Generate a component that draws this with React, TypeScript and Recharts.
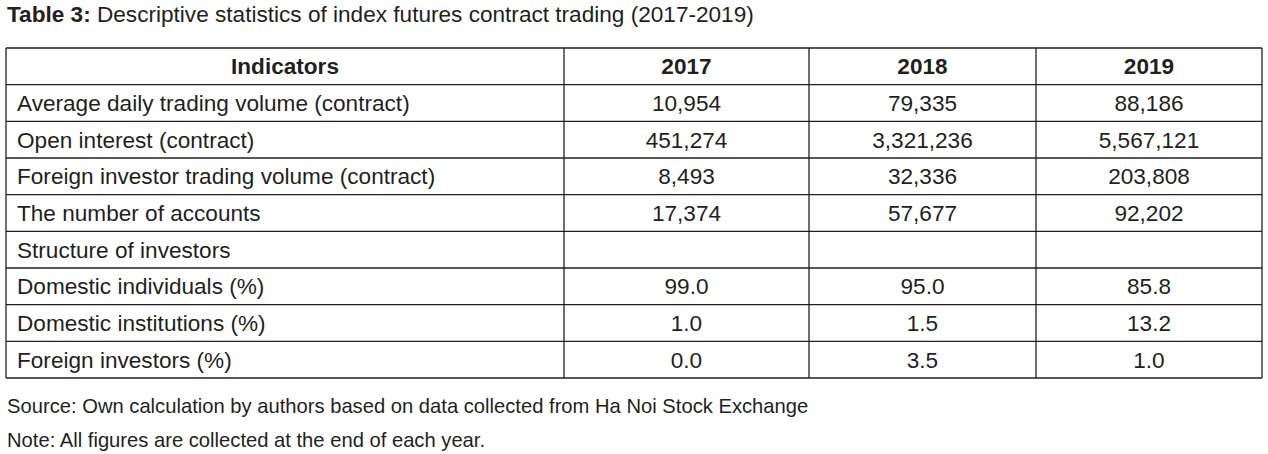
import React from 'react';
import { ScatterChart, Scatter, XAxis, YAxis, ReferenceLine, Customized } from 'recharts';

const title = 'Table 3:';
const subtitle = ' Descriptive statistics of index futures contract trading (2017-2019)';
const headerLabel = 'Indicators';
const years = ['2017', '2018', '2019'];
const indicators = [
  'Average daily trading volume (contract)',
  'Open interest (contract)',
  'Foreign investor trading volume (contract)',
  'The number of accounts',
  'Structure of investors',
  'Domestic individuals (%)',
  'Domestic institutions (%)',
  'Foreign investors (%)',
];
const values2017 = [10954, 451274, 8493, 17374, null, 99.0, 1.0, 0.0];
const values2018 = [79335, 3321236, 32336, 57677, null, 95.0, 1.5, 3.5];
const values2019 = [88186, 5567121, 203808, 92202, null, 85.8, 13.2, 1.0];
const sourceNote = 'Source: Own calculation by authors based on data collected from Ha Noi Stock Exchange';
const footNote = 'Note: All figures are collected at the end of each year.';

// layout
const W = 1268;
const H = 454;
const colWidths = [558, 245, 227, 226];
const colEdges = colWidths.reduce<number[]>((acc, w) => [...acc, acc[acc.length - 1] + w], [0]);
const tableWidth = colEdges[colEdges.length - 1];
const rowCount = indicators.length + 1;
const FONT = '"Liberation Sans", Arial, Helvetica, sans-serif';
const INK = '#231f20';

const fmt = (v: number, isPct: boolean) =>
  isPct ? v.toFixed(1) : v.toLocaleString('en-US');

type Cell = { x: number; y: number; text: string; anchor: 'start' | 'middle'; bold: boolean };

const cells: Cell[] = [];
cells.push({ x: (colEdges[0] + colEdges[1]) / 2, y: 0.5, text: headerLabel, anchor: 'middle', bold: true });
years.forEach((yr, j) => {
  cells.push({ x: (colEdges[j + 1] + colEdges[j + 2]) / 2, y: 0.5, text: yr, anchor: 'middle', bold: true });
});
const series = [values2017, values2018, values2019];
indicators.forEach((name, i) => {
  const row = i + 1.5;
  const isPct = name.includes('(%)');
  cells.push({ x: colEdges[0] + 11, y: row, text: name, anchor: 'start', bold: false });
  series.forEach((vals, j) => {
    const v = vals[i];
    if (v === null) return;
    cells.push({ x: (colEdges[j + 1] + colEdges[j + 2]) / 2, y: row, text: fmt(v, isPct), anchor: 'middle', bold: false });
  });
});

const CellText = (props: any) => {
  const { cx, cy, payload } = props;
  return (
    <text
      x={cx}
      y={cy + 8}
      textAnchor={payload.anchor}
      fontFamily={FONT}
      fontSize={22.6}
      fontWeight={payload.bold ? 'bold' : 'normal'}
      fill={INK}
    >
      {payload.text}
    </text>
  );
};

const Captions = () => (
  <g fontFamily={FONT} fill={INK}>
    <text x={7} y={22} fontSize={22.6}>
      <tspan fontWeight="bold">{title}</tspan>
      <tspan>{subtitle}</tspan>
    </text>
    <text x={7} y={413} fontSize={20.2}>{sourceNote}</text>
    <text x={7} y={447} fontSize={20.2}>{footNote}</text>
  </g>
);

export default function App() {
  const rows = Array.from({ length: rowCount + 1 }, (_, i) => i);
  return (
    <div style={{ width: W, height: H, background: '#fff' }}>
      <style>{'body{margin:0}'}</style>
      <ScatterChart width={W} height={H} margin={{ top: 48, right: 6, bottom: 76, left: 6 }}>
        <XAxis type="number" dataKey="x" domain={[0, tableWidth]} allowDataOverflow hide />
        <YAxis type="number" dataKey="y" domain={[0, rowCount]} allowDataOverflow reversed hide />
        {rows.map((r) => (
          <ReferenceLine key={`h-${r}`} y={r} stroke={INK} strokeWidth={1.3} />
        ))}
        {colEdges.map((e) => (
          <ReferenceLine key={`v-${e}`} x={e} stroke={INK} strokeWidth={1.3} />
        ))}
        <Scatter data={cells} shape={CellText} isAnimationActive={false} />
        <Customized component={Captions} />
      </ScatterChart>
    </div>
  );
}
